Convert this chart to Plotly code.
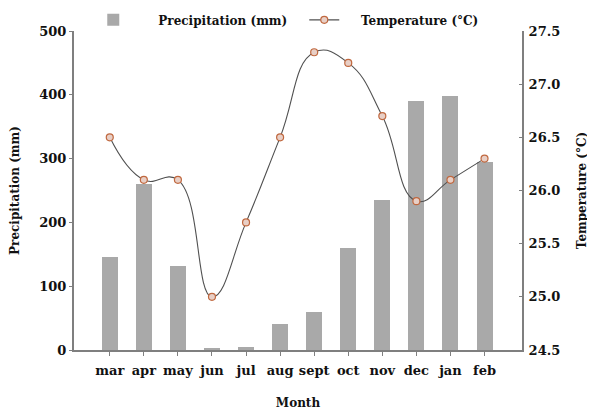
import plotly.graph_objects as go

months = ["mar", "apr", "may", "jun", "jul", "aug", "sept", "oct", "nov", "dec", "jan", "feb"]
precip = [145, 260, 132, 3, 5, 40, 60, 160, 235, 390, 398, 295]
temp = [26.5, 26.1, 26.1, 25.0, 25.7, 26.5, 27.3, 27.2, 26.7, 25.9, 26.1, 26.3]

FONT = "DejaVu Serif"
AX = "#7f7f7f"
NB = "\u00a0"

fig = go.Figure()
fig.add_trace(go.Bar(
    x=months, y=precip, name=NB * 6 + "Precipitation (mm)",
    marker=dict(color="#a9a9a9", line=dict(width=0)), width=0.47,
))
fig.add_trace(go.Scatter(
    x=months, y=temp, name=NB * 4 + "Temperature (°C)", yaxis="y2",
    mode="lines+markers",
    line=dict(color="#505050", width=1.1, shape="spline", smoothing=1.3),
    marker=dict(symbol="circle", size=7, color="#e8cfc6", line=dict(color="#c0683f", width=1.2)),
))

tickfont = dict(family=FONT, size=13, color="#111111", weight="bold")
titlefont = dict(family=FONT, size=12, color="#111111", weight="bold")

fig.update_layout(
    width=595, height=410,
    margin=dict(l=66, r=81, t=23, b=68, autoexpand=False),
    paper_bgcolor="white", plot_bgcolor="white",
    bargap=0,
    showlegend=True,
    legend=dict(
        orientation="h", x=0.043, y=1.035, xanchor="left", yanchor="middle",
        font=dict(family=FONT, size=12, color="#111111", weight="bold"),
        itemwidth=30, bgcolor="rgba(0,0,0,0)", tracegroupgap=0,
        entrywidth=166, entrywidthmode="pixels",
    ),
    xaxis=dict(
        type="category", range=[-1.05, 12.1],
        showline=True, linecolor=AX, linewidth=2, mirror=False,
        ticks="outside", ticklen=4, tickcolor=AX, tickwidth=1,
        tickfont=tickfont, showgrid=False, zeroline=False, ticklabelstandoff=3,
        title=dict(text="Month", font=titlefont, standoff=22),
    ),
    yaxis=dict(
        range=[0, 500], dtick=100, showline=True, linecolor=AX, linewidth=2,
        ticks="outside", ticklen=3, tickcolor=AX, tickfont=tickfont,
        showgrid=False, zeroline=False,
        title=dict(text="Precipitation (mm)", font=titlefont, standoff=20),
    ),
    yaxis2=dict(
        range=[24.5, 27.5], dtick=0.5, tickformat=".1f", overlaying="y", side="right",
        showline=True, linecolor=AX, linewidth=2,
        ticks="inside", ticklen=3, tickcolor=AX, tickfont=tickfont,
        showgrid=False, zeroline=False, ticklabelstandoff=2,
        title=dict(text="Temperature (°C)", font=titlefont, standoff=18),
    ),
)

fig.write_html("out.html")
